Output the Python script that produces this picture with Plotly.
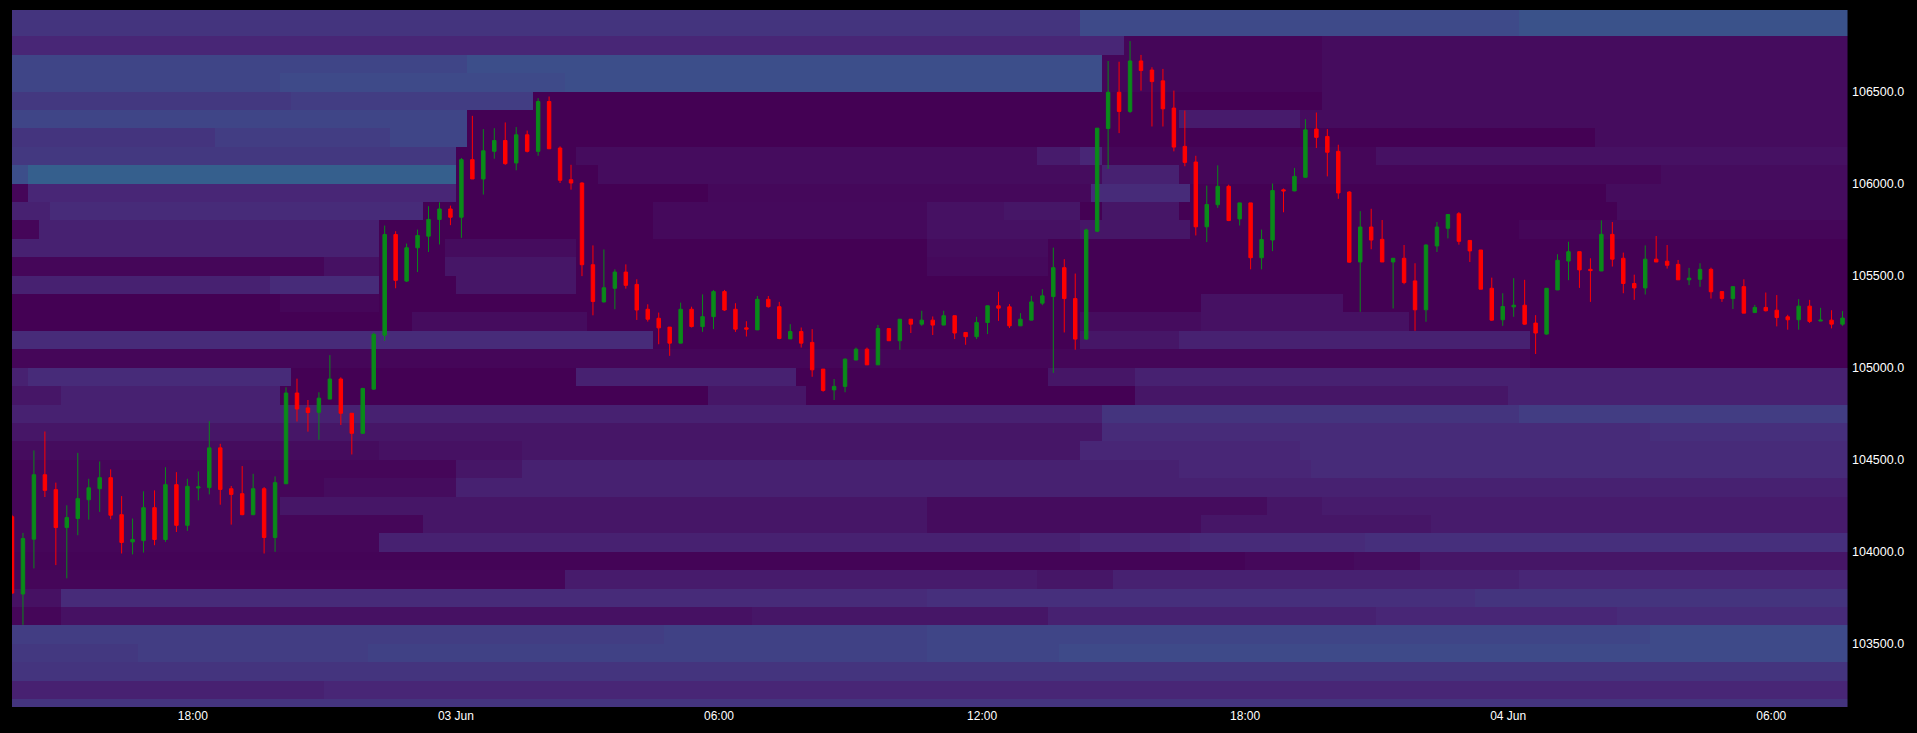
import pandas as pd
import plotly.graph_objects as go

# ---------------- candles (15-minute bars) ----------------
START = "2025-06-02 13:52:30"
N_BARS = 168

OPEN = [104190, 103770, 104068, 104418, 104337, 104131, 104180, 104282, 104342, 104402,
        104201, 104053, 104060, 104239, 104066, 104364, 104143, 104346, 104348, 104564,
        104342, 104315, 104201, 104342, 104077, 104369, 104862, 104781, 104757, 104829,
        104938, 104752, 104643, 104883, 105176, 105723, 105470, 105651, 105714, 105805,
        105862, 105817, 106130, 106025, 106175, 106234, 106112, 106265, 106175, 106446,
        106193, 106021, 106003, 105559, 105357, 105431, 105519, 105452, 105317, 105268,
        105220, 105133, 105317, 105223, 105277, 105413, 105317, 105216, 105205, 105371,
        105331, 105156, 105196, 105137, 104992, 104879, 104898, 105041, 105100, 105015,
        105212, 105146, 105263, 105236, 105258, 105231, 105282, 105191, 105168, 105245,
        105336, 105330, 105227, 105258, 105350, 105386, 105543, 105375, 105155, 105741,
        106299, 106496, 106392, 106666, 106617, 106558, 106410, 106202, 106117, 105765,
        105885, 105985, 105808, 105895, 105597, 105693, 105966, 105960, 106034, 106296,
        106256, 106175, 105954, 105574, 105764, 105697, 105574, 105594, 105471, 105314,
        105661, 105757, 105836, 105691, 105639, 105431, 105260, 105330, 105339, 105242,
        105182, 105422, 105579, 105630, 105534, 105525, 105724, 105594, 105457, 105433,
        105589, 105578, 105561, 105477, 105480, 105534, 105413, 105375, 105440, 105299,
        105327, 105312, 105276, 105260, 105334, 105253, 105258, 105236]
HIGH = [104200, 104102, 104550, 104653, 104375, 104252, 104537, 104396, 104490, 104447,
        104302, 104180, 104328, 104333, 104459, 104432, 104396, 104436, 104709, 104586,
        104357, 104465, 104423, 104351, 104409, 104893, 104940, 104824, 104866, 105068,
        104947, 104752, 104890, 105190, 105772, 105741, 105674, 105750, 105877, 105898,
        105880, 106139, 106368, 106296, 106301, 106332, 106307, 106288, 106464, 106473,
        106202, 106102, 106007, 105664, 105642, 105534, 105561, 105480, 105344, 105299,
        105220, 105353, 105331, 105398, 105422, 105422, 105350, 105252, 105389, 105389,
        105357, 105236, 105218, 105209, 104992, 104938, 105050, 105109, 105109, 105232,
        105212, 105263, 105263, 105309, 105278, 105309, 105282, 105191, 105276, 105336,
        105412, 105345, 105296, 105390, 105426, 105652, 105589, 105511, 105755, 106301,
        106666, 106662, 106774, 106699, 106632, 106623, 106505, 106397, 106151, 105989,
        106099, 105994, 105895, 105895, 105750, 106000, 105973, 106085, 106350, 106386,
        106296, 106211, 105959, 105850, 105863, 105802, 105594, 105666, 105567, 105670,
        105791, 105832, 105845, 105691, 105639, 105489, 105404, 105486, 105477, 105285,
        105431, 105616, 105684, 105630, 105594, 105800, 105791, 105625, 105505, 105664,
        105715, 105666, 105585, 105542, 105567, 105543, 105413, 105440, 105480, 105341,
        105408, 105394, 105287, 105372, 105368, 105325, 105312, 105307]
LOW = [103770, 103602, 103909, 104297, 103927, 103855, 104089, 104174, 104216, 104176,
       103990, 103985, 103995, 104035, 104053, 104107, 104113, 104279, 104311, 104255,
       104147, 104198, 104198, 103990, 103999, 104369, 104707, 104652, 104608, 104829,
       104688, 104528, 104640, 104880, 105145, 105431, 105465, 105519, 105628, 105669,
       105774, 105705, 106025, 105940, 106135, 106102, 106072, 106169, 106151, 106189,
       106003, 105967, 105497, 105284, 105353, 105317, 105429, 105259, 105250, 105127,
       105064, 105133, 105218, 105194, 105209, 105308, 105194, 105169, 105205, 105326,
       105154, 105156, 105109, 104950, 104869, 104824, 104866, 105041, 105015, 105015,
       105146, 105097, 105188, 105227, 105177, 105231, 105155, 105124, 105155, 105182,
       105254, 105215, 105227, 105258, 105339, 104971, 105191, 105097, 105151, 105736,
       106079, 106274, 106383, 106505, 106310, 106310, 106175, 106094, 105718, 105682,
       105868, 105796, 105772, 105534, 105534, 105633, 105844, 105958, 106034, 106193,
       106039, 105917, 105570, 105303, 105643, 105574, 105321, 105453, 105200, 105249,
       105628, 105702, 105668, 105574, 105426, 105254, 105227, 105276, 105233, 105074,
       105179, 105422, 105475, 105433, 105357, 105525, 105549, 105404, 105368, 105397,
       105574, 105538, 105477, 105448, 105439, 105375, 105357, 105318, 105296, 105299,
       105305, 105224, 105206, 105206, 105242, 105253, 105213, 105227]
CLOSE = [103775, 104071, 104418, 104333, 104131, 104185, 104288, 104347, 104402, 104198,
         104050, 104066, 104239, 104066, 104364, 104143, 104355, 104352, 104564, 104338,
         104311, 104201, 104342, 104077, 104375, 104862, 104775, 104756, 104834, 104938,
         104752, 104643, 104887, 105181, 105723, 105474, 105651, 105718, 105805, 105862,
         105817, 106130, 106025, 106178, 106234, 106108, 106265, 106175, 106446, 106189,
         106018, 106003, 105559, 105359, 105434, 105519, 105447, 105313, 105263, 105216,
         105133, 105317, 105223, 105277, 105413, 105313, 105209, 105209, 105371, 105331,
         105158, 105196, 105133, 104988, 104876, 104898, 105046, 105100, 105015, 105212,
         105146, 105263, 105236, 105258, 105231, 105282, 105188, 105168, 105245, 105336,
         105323, 105227, 105263, 105357, 105390, 105543, 105375, 105155, 105748, 106301,
         106496, 106392, 106666, 106614, 106554, 106406, 106198, 106115, 105765, 105886,
         105985, 105799, 105895, 105597, 105696, 105962, 105960, 106039, 106292, 106251,
         106170, 105949, 105573, 105764, 105693, 105574, 105594, 105462, 105314, 105666,
         105764, 105832, 105686, 105634, 105426, 105258, 105332, 105339, 105236, 105188,
         105431, 105583, 105630, 105531, 105527, 105724, 105589, 105457, 105433, 105589,
         105574, 105556, 105477, 105486, 105534, 105412, 105375, 105440, 105296, 105327,
         105309, 105272, 105260, 105334, 105251, 105258, 105236, 105269]

# ---------------- order-book heatmap ----------------
# lower edge of each 100-wide price row (top to bottom)
ROW_LOW = [106900, 106800, 106700, 106600, 106500, 106400, 106300, 106200, 106100, 106000,
           105900, 105800, 105700, 105600, 105500, 105400, 105300, 105200, 105100, 105000,
           104900, 104800, 104700, 104600, 104500, 104400, 104300, 104200, 104100, 104000,
           103900, 103800, 103700, 103600, 103500, 103400, 103300, 103200, 103100]
# intensity runs per row: (first bar index, level 0..10)
HEAT_RUNS = [
    [(0, 5), (98, 7.5), (138, 8.5)],                                   # 106900
    [(0, 5), (98, 7.5), (138, 8.5)],                                   # 106800
    [(0, 3.5), (102, 0.5), (120, 1)],                                  # 106700
    [(0, 7), (42, 8), (100, 0.5), (120, 1)],                           # 106600
    [(0, 7), (25, 7.5), (51, 8), (100, 0.5), (120, 1)],                # 106500
    [(0, 5.5), (26, 6), (48, 0), (120, 1)],                            # 106400
    [(0, 7), (42, 0), (107, 2.5), (118, 1)],                           # 106300
    [(0, 5), (19, 6), (35, 7), (42, 0), (145, 1)],                     # 106200
    [(0, 5.5), (41, 0), (52, 1), (94, 2.5), (98, 3.5), (100, 0.5), (125, 1.5)],  # 106100
    [(0, 8), (2, 10), (41, 0), (54, 1), (100, 3), (107, 0.5), (151, 1)],         # 106000
    [(0, 0.5), (2, 3.5), (41, 0), (64, 0.7), (99, 4), (108, 0), (146, 1)],       # 105900
    [(0, 3), (4, 4), (38, 0), (59, 0.8), (84, 1.5), (91, 2), (98, 0), (100, 2), (107, 0), (147, 1)],  # 105800
    [(0, 0.5), (3, 3), (34, 0), (59, 0.8), (84, 1.5), (98, 2), (108, 0), (138, 0.5)],  # 105700
    [(0, 3), (34, 0), (40, 1), (52, 0), (84, 1), (95, 0)],             # 105600
    [(0, 0.5), (29, 1.5), (34, 0), (40, 2), (52, 0), (84, 0.8), (95, 0)],  # 105500
    [(0, 3), (24, 4), (34, 0), (41, 2), (52, 0)],                      # 105400
    [(0, 0), (25, 0.5), (34, 0), (109, 1.5), (122, 0)],                # 105300
    [(0, 0), (37, 1), (53, 0), (98, 1), (109, 1.5), (128, 0)],         # 105200
    [(0, 4), (59, 0), (98, 2), (107, 3), (139, 0)],                    # 105100
    [(0, 0.5), (139, 0)],                                              # 105000
    [(0, 3), (2, 4), (26, 0), (52, 3), (72, 0), (95, 2), (103, 3)],    # 104900
    [(0, 2), (5, 3), (25, 0), (64, 2), (73, 0), (103, 2), (137, 3)],   # 104800
    [(0, 3), (100, 5), (138, 6)],                                      # 104700
    [(0, 2), (100, 4), (150, 4.5)],                                    # 104600
    [(0, 1), (34, 1.5), (47, 2), (98, 3.5), (118, 4)],                 # 104500
    [(0, 0.5), (41, 2), (47, 3), (107, 3.5), (119, 4)],                # 104400
    [(0, 0.5), (29, 1), (41, 3)],                                      # 104300
    [(0, 0.5), (25, 2), (84, 1), (115, 2), (120, 2.5)],                # 104200
    [(0, 0.5), (38, 2), (84, 1), (109, 2), (130, 2.5)],                # 104100
    [(0, 0.5), (34, 3), (98, 3.5), (108, 4), (124, 4.5)],              # 104000
    [(0, 0.3), (113, 0.7), (123, 1), (129, 2)],                        # 103900
    [(0, 0.5), (51, 2.5), (94, 2), (101, 3), (138, 3.5)],              # 103800
    [(0, 1.5), (5, 4), (84, 4.5), (134, 5)],                           # 103700
    [(0, 0.5), (5, 1.5), (68, 2), (95, 3), (125, 3.5), (147, 4)],      # 103600
    [(0, 6), (60, 6.5), (84, 7), (150, 7.5)],                          # 103500
    [(0, 5.5), (12, 6), (33, 6.5), (84, 7), (96, 7.5)],                # 103400
    [(0, 5)],                                                          # 103300
    [(0, 3), (29, 3.5)],                                               # 103200
    [(0, 5)],                                                          # 103100
]

X_TICKS = ["2025-06-02 18:00", "2025-06-03 00:00", "2025-06-03 06:00", "2025-06-03 12:00",
           "2025-06-03 18:00", "2025-06-04 00:00", "2025-06-04 06:00"]
X_TICKTEXT = ["18:00", "03 Jun", "06:00", "12:00", "18:00", "04 Jun", "06:00"]

times = pd.date_range(START, periods=N_BARS, freq="15min")


def expand(runs):
    vals = []
    for k, (s, lvl) in enumerate(runs):
        e = runs[k + 1][0] if k + 1 < len(runs) else N_BARS
        vals += [lvl] * (e - s)
    return vals


rows = list(zip(ROW_LOW, HEAT_RUNS))[::-1]  # ascending price
z = [expand(r) for _, r in rows]
yc = [p + 50 for p, _ in rows]

fig = go.Figure()
fig.add_trace(go.Heatmap(
    x=times, y=yc, z=z, colorscale="Viridis", zmin=0, zmax=33.3,
    showscale=False, hoverinfo="skip",
))
fig.add_trace(go.Candlestick(
    x=times, open=OPEN, high=HIGH, low=LOW, close=CLOSE,
    increasing=dict(line=dict(color="#0a8a1a", width=1), fillcolor="#0a8a1a"),
    decreasing=dict(line=dict(color="#ff0000", width=1), fillcolor="#ff0000"),
    whiskerwidth=0, showlegend=False,
))

fig.update_layout(
    width=1917, height=733,
    margin=dict(l=12, r=69, t=10, b=24),
    paper_bgcolor="#000000", plot_bgcolor="#000000",
    font=dict(family="Liberation Sans, Arial, sans-serif", size=12, color="#ffffff"),
    showlegend=False, boxgap=0.55,
    xaxis=dict(
        range=[times[0], times[-1] + pd.Timedelta(minutes=7.5)],
        rangeslider=dict(visible=False),
        tickvals=pd.to_datetime(X_TICKS), ticktext=X_TICKTEXT,
        showgrid=False, zeroline=False, showline=False, ticks="",
        tickfont=dict(size=12, color="#ffffff"),
    ),
    yaxis=dict(
        range=[103156, 106943], side="right", dtick=500, tick0=0, tickformat=".1f",
        showgrid=False, zeroline=False, showline=False, ticks="",
        tickfont=dict(size=12.5, color="#ffffff"), ticklabelstandoff=3,
    ),
)

fig.write_html("out.html", config={"displayModeBar": False},
               post_script="document.body.style.margin='0';")
